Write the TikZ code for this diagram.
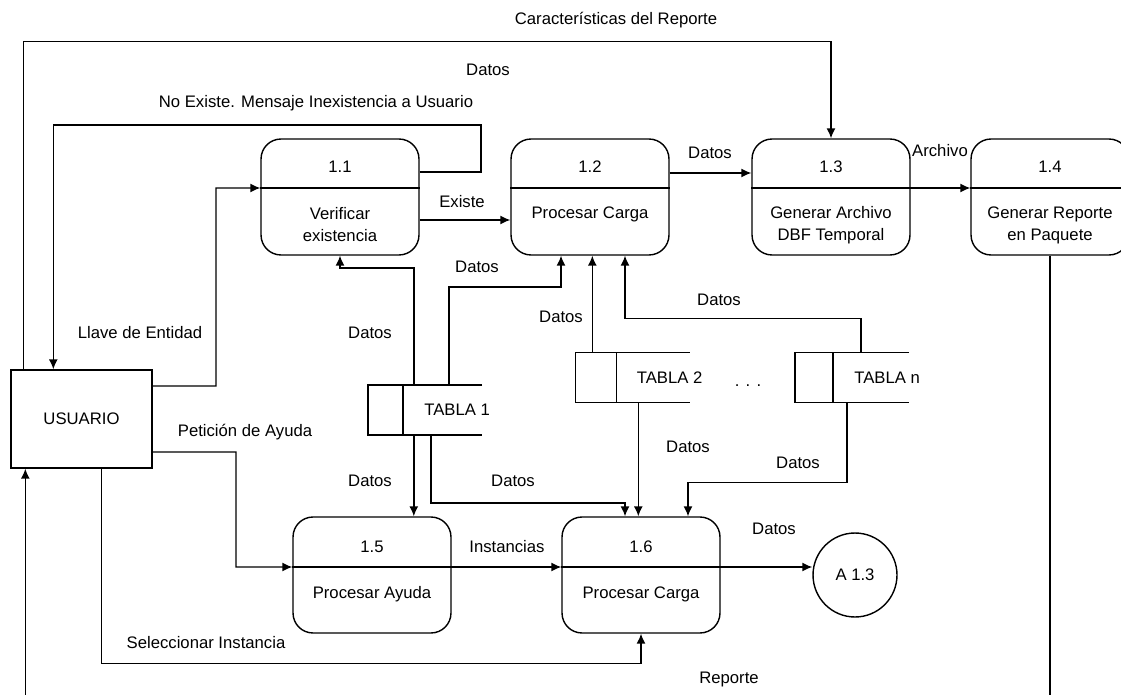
\documentclass[tikz,border=0pt]{standalone}
\usepackage{fontspec}
\setmainfont{Liberation Sans}
\usetikzlibrary{arrows.meta}

\begin{document}
\begin{tikzpicture}[x=0.02cm, y=-0.02cm, line width=0.8pt,
  font=\fontsize{9.5}{12.5}\selectfont,
  flow/.style={-{Latex[length=2mm,width=1.8mm]}},
  proceso/.style={draw, rounded corners=0.4cm, minimum width=3.16cm, minimum height=2.32cm},
  entidad/.style={draw, minimum width=2.82cm, minimum height=1.96cm},
  almacen/.style={minimum width=2.26cm, minimum height=0.98cm, inner sep=0pt}]
\useasboundingbox (0,0) rectangle (1121,695);

% Processes
\node[proceso] (p11) at (340,197) {};
\node[proceso] (p12) at (590,197) {};
\node[proceso] (p13) at (831,197) {};
\node[proceso] (p14) at (1050,197) {};
\node[proceso] (p15) at (372,575) {};
\node[proceso] (p16) at (641,575) {};

% Dividers
\coordinate (d11w) at ([yshift=0.18cm]p11.west);
\coordinate (d11e) at ([yshift=0.18cm]p11.east);
\coordinate (d12w) at ([yshift=0.18cm]p12.west);
\coordinate (d12e) at ([yshift=0.18cm]p12.east);
\coordinate (d13w) at ([yshift=0.18cm]p13.west);
\coordinate (d13e) at ([yshift=0.18cm]p13.east);
\coordinate (d14w) at ([yshift=0.18cm]p14.west);
\coordinate (d14e) at ([yshift=0.18cm]p14.east);
\coordinate (d15w) at ([yshift=0.16cm]p15.west);
\coordinate (d15e) at ([yshift=0.16cm]p15.east);
\coordinate (d16w) at ([yshift=0.16cm]p16.west);
\coordinate (d16e) at ([yshift=0.16cm]p16.east);
\draw (d11w) -- (d11e);
\draw (d12w) -- (d12e);
\draw (d13w) -- (d13e);
\draw (d14w) -- (d14e);
\draw (d15w) -- (d15e);
\draw (d16w) -- (d16e);

% Process texts
\node (n11) at (340,167) {1.1};
\node[align=center] (t11) at (340,225) {Verificar\\existencia};
\node (n12) at (590,167) {1.2};
\node (t12) at (590,214) {Procesar Carga};
\node (n13) at (831,167) {1.3};
\node[align=center] (t13) at (831,225) {Generar Archivo\\DBF Temporal};
\node (n14) at (1050,167) {1.4};
\node[align=center] (t14) at (1050,225) {Generar Reporte\\en Paquete};
\node (n15) at (372,547) {1.5};
\node (t15) at (372,594) {Procesar Ayuda};
\node (n16) at (641,547) {1.6};
\node (t16) at (641,594) {Procesar Carga};

% External entity and connector
\node[entidad] (usr) at (81.5,419) {USUARIO};
\node[draw, circle, minimum size=1.68cm, inner sep=0pt] (a13) at (855,575) {A 1.3};

% Data stores
\node[almacen] (tab1) at (425,410) {};
\draw (tab1.north east) -- (tab1.north west) -- (tab1.south west) -- (tab1.south east);
\draw ([xshift=0.7cm]tab1.north west) -- ([xshift=0.7cm]tab1.south west);
\node[anchor=west] (ltab1) at ([xshift=1.0cm]tab1.west) {TABLA 1};

\node[almacen] (tab2) at (632.5,377.5) {};
\draw (tab2.north east) -- (tab2.north west) -- (tab2.south west) -- (tab2.south east);
\draw ([xshift=0.82cm]tab2.north west) -- ([xshift=0.82cm]tab2.south west);
\node[anchor=west] (ltab2) at ([xshift=1.1cm]tab2.west) {TABLA 2};

\node (dots) at (748,386) {. . .};

\node[almacen] (tabn) at (852,377.5) {};
\draw (tabn.north east) -- (tabn.north west) -- (tabn.south west) -- (tabn.south east);
\draw ([xshift=0.76cm]tabn.north west) -- ([xshift=0.76cm]tabn.south west);
\node[anchor=west] (ltabn) at ([xshift=1.06cm]tabn.west) {TABLA n};

% Flows from the user
\draw[flow] ([xshift=0.26cm]usr.north west) -- ++(0,-328) -| (p13.north);
\draw[flow] ([yshift=0.5cm]p11.east) -| (481,125) -| ([xshift=0.86cm]usr.north west);
\draw[flow] ([yshift=0.66cm]usr.east) -| (216,188) -- (d11w);
\draw[flow] ([yshift=-0.66cm]usr.east) -| (236,567) -- (d15w);
\draw[flow] ([xshift=1.82cm]usr.south west) |- ([yshift=-0.6cm]p16.south) -- (p16.south);
\draw[flow] (p14.south) -- ++(0,480) -| ([xshift=0.3cm]usr.south west);

% Flows between processes
\draw[flow] ([yshift=-0.46cm]p11.east) -- ([yshift=-0.46cm]p12.west);
\draw[flow] ([yshift=0.48cm]p12.east) -- ([yshift=0.48cm]p13.west);
\draw[flow] (d13e) -- (d14w);
\draw[flow] (d15e) -- (d16w);
\draw[flow] (d16e) -- (d16e -| a13.west);

% Flows from the tables
\coordinate (t1a) at ([xshift=0.92cm]tab1.north west);
\coordinate (t1b) at ([xshift=1.62cm]tab1.north west);
\coordinate (t1c) at ([xshift=0.92cm]tab1.south west);
\coordinate (t1d) at ([xshift=1.26cm]tab1.south west);
\draw[flow] (t1a) -- ++(0,-117) -| (p11.south);
\draw[flow] (t1b) -- ++(0,-98) -| ([xshift=-0.58cm]p12.south);
\draw[flow] (t1c) -- (t1c |- p15.north);
\draw[flow] (t1d) -- ++(0,68) -| ([xshift=-0.32cm]p16.north);

\coordinate (t2a) at ([xshift=0.34cm]tab2.north west);
\coordinate (t2b) at ([xshift=1.26cm]tab2.south west);
\draw[flow] (t2a) -- (t2a |- p12.south);
\draw[flow] (t2b) -- (t2b |- p16.north);

\coordinate (tna) at ([xshift=1.32cm]tabn.north west);
\coordinate (tnb) at ([xshift=1.04cm]tabn.south west);
\draw[flow] (tna) -- ++(0,-34) -| ([xshift=0.7cm]p12.south);
\draw[flow] (tnb) -- ++(0,80) -| ([xshift=0.94cm]p16.north);

% Flow labels
\node (lcar) at (616,20) {Características del Reporte};
\node (ldat0) at (488,70) {Datos};
\node (lnoex) at (316,103) {No Existe. Mensaje Inexistencia a Usuario};
\node (lexis) at (462,202) {Existe};
\node (ldat1) at (710,153) {Datos};
\node (larch) at (940,151) {Archivo};
\node (lllave) at (140,333) {Llave de Entidad};
\node (ldat2) at (370,333) {Datos};
\node (ldat3) at (477,267) {Datos};
\node (ldat4) at (561,317) {Datos};
\node (ldat5) at (719,300) {Datos};
\node (lpet) at (245,432) {Petición de Ayuda};
\node (ldat6) at (688,447) {Datos};
\node (ldat7) at (798,463) {Datos};
\node (ldat8) at (370,481) {Datos};
\node (ldat9) at (513,481) {Datos};
\node (ldat10) at (774,529) {Datos};
\node (linst) at (507,547) {Instancias};
\node (lsel) at (206,643) {Seleccionar Instancia};
\node (lrep) at (729,679) {Reporte};
\end{tikzpicture}
\end{document}
